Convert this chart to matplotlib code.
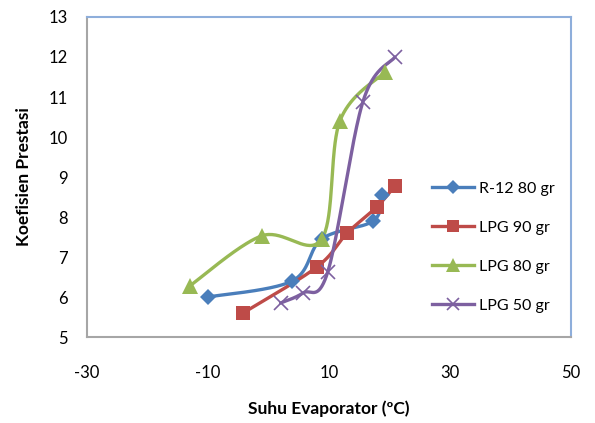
import numpy as np
import matplotlib
matplotlib.use("Agg")
import matplotlib.pyplot as plt

plt.rcParams["axes.unicode_minus"] = False

# values
r12_x = [-10.0, 3.9, 8.8, 17.3, 18.8]
r12_y = [6.0, 6.4, 7.45, 7.9, 8.55]

lpg90_x = [-4.2, 8.0, 13.0, 17.9, 20.9]
lpg90_y = [5.6, 6.75, 7.6, 8.25, 8.78]

lpg80_x = [-13.0, -1.1, 8.8, 11.8, 19.3]
lpg80_y = [6.28, 7.53, 7.45, 10.4, 11.63]

lpg50_x = [2.0, 5.7, 9.8, 15.6, 20.9]
lpg50_y = [5.85, 6.1, 6.63, 10.88, 12.0]

SERIES = [
    ("R-12 80 gr", r12_x, r12_y, "#4A7EBB", "D", 8),
    ("LPG 90 gr", lpg90_x, lpg90_y, "#BE4B48", "s", 10),
    ("LPG 80 gr", lpg80_x, lpg80_y, "#98B954", "^", 11),
    ("LPG 50 gr", lpg50_x, lpg50_y, "#7D60A0", "x", 10),
]

FONT = "Lato"


def smooth(ax, xs, ys, n=40):
    """Excel-style smoothed line: cubic Bezier through points, done in pixel space."""
    pts = ax.transData.transform(np.column_stack([xs, ys]))
    out = [pts[0]]
    m = len(pts)
    for i in range(m - 1):
        p0 = pts[i - 1] if i > 0 else pts[i]
        p1 = pts[i]
        p2 = pts[i + 1]
        p3 = pts[i + 2] if i + 2 < m else pts[i + 1]
        c1 = p1 + (p2 - p0) / 6.0
        c2 = p2 - (p3 - p1) / 6.0
        t = np.linspace(0, 1, n)[1:, None]
        seg = ((1 - t) ** 3) * p1 + 3 * ((1 - t) ** 2) * t * c1 \
            + 3 * (1 - t) * t ** 2 * c2 + t ** 3 * p2
        out.extend(seg)
    out = ax.transData.inverted().transform(np.array(out))
    return out[:, 0], out[:, 1]


fig = plt.figure(figsize=(5.95, 4.23), dpi=100, facecolor="white")
ax = fig.add_axes([87 / 595, 1 - 337 / 423, (571 - 87) / 595, (337 - 17) / 423])

ax.set_xlim(-30, 50)
ax.set_ylim(5, 13)
ax.set_xticks([-30, -10, 10, 30, 50])
ax.set_yticks(range(5, 14))
ax.tick_params(length=0, labelsize=12)
ax.tick_params(axis="y", pad=14)
ax.tick_params(axis="x", pad=20)
for lab in ax.get_xticklabels() + ax.get_yticklabels():
    lab.set_fontfamily(FONT)

ax.spines["left"].set_color("#A6A6A6")
ax.spines["bottom"].set_color("#A6A6A6")
ax.spines["top"].set_color("#8EAEDB")
ax.spines["right"].set_color("#8EAEDB")
for s in ax.spines.values():
    s.set_linewidth(1.5)

for label, xs, ys, color, mk, ms in SERIES:
    sx, sy = smooth(ax, xs, ys)
    ax.plot(sx, sy, color=color, linewidth=2.4, solid_capstyle="round", zorder=2)
    kw = dict(markeredgewidth=1.2) if mk == "x" else dict(markeredgewidth=0)
    ax.plot(xs, ys, linestyle="none", marker=mk, markersize=ms,
            color=color, zorder=3, **kw)
    ax.plot([], [], color=color, linewidth=2.4, marker=mk,
            markersize=ms * 0.9, label=label, **kw)

leg = ax.legend(loc="center left", bbox_to_anchor=(0.70, 0.28), frameon=False,
                prop={"family": FONT, "size": 11.5}, handlelength=2.6,
                handletextpad=0.3, labelspacing=1.55, borderaxespad=0)

ax.set_xlabel("Suhu Evaporator (ºC)", fontsize=12.5, fontweight="bold",
              fontfamily=FONT, labelpad=14)
ax.set_ylabel("Koefisien Prestasi", fontsize=12.5, fontweight="bold",
              fontfamily=FONT, labelpad=12)

fig.savefig("out.png", dpi=100)
